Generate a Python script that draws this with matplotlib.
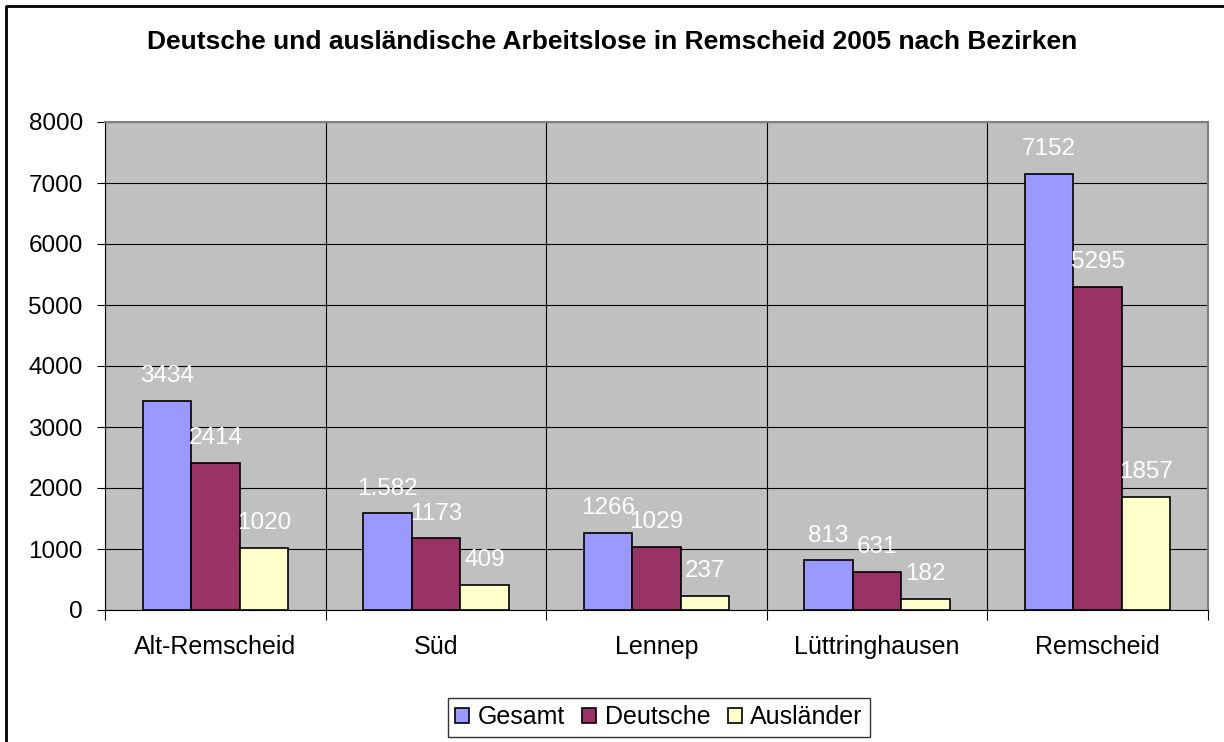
import numpy as np
import matplotlib.pyplot as plt
from matplotlib.lines import Line2D

# data
bezirke = ["Alt-Remscheid", "Süd", "Lennep", "Lüttringhausen", "Remscheid"]
gesamt = [3434, 1582, 1266, 813, 7152]
deutsche = [2414, 1173, 1029, 631, 5295]
auslaender = [1020, 409, 237, 182, 1857]
gesamt_labels = ["3434", "1.582", "1266", "813", "7152"]

series = [
    ("Gesamt", gesamt, "#9999FF", gesamt_labels),
    ("Deutsche", deutsche, "#993366", None),
    ("Ausländer", auslaender, "#FFFFCC", None),
]

plt.rcParams['font.family'] = ['Liberation Sans', 'DejaVu Sans']

fig = plt.figure(figsize=(12.24, 7.42), dpi=100)
ax = fig.add_axes([105 / 1224, 132 / 742, 1103 / 1224, 488 / 742])
ax.set_facecolor("#C0C0C0")

x = np.arange(len(bezirke))
width = 0.22
for i, (name, vals, color, labels) in enumerate(series):
    pos = x + (i - 1) * width
    bars = ax.bar(pos, vals, width, color=color, edgecolor="black",
                  linewidth=1.2, label=name, zorder=3)
    if labels is None:
        labels = [str(v) for v in vals]
    for b, lab in zip(bars, labels):
        ax.annotate(lab, (b.get_x() + b.get_width() / 2, b.get_height()),
                    xytext=(0, 10), textcoords="offset points",
                    ha="center", va="bottom", color="white", fontsize=17.5,
                    zorder=4)

ax.set_xlim(-0.5, len(bezirke) - 0.5)
ax.set_ylim(0, 8000)
ax.set_yticks(np.arange(0, 8001, 1000))
ax.tick_params(axis="y", labelsize=17.5, length=6, pad=10, direction="out")

# vertical lines between categories
ax.set_xticks(np.arange(-0.5, len(bezirke), 1.0))
ax.set_xticklabels([])
ax.set_xticks(x, minor=True)
ax.set_xticklabels(bezirke, minor=True, fontsize=18)
ax.tick_params(axis="x", which="major", length=7, direction="out")
ax.tick_params(axis="x", which="minor", length=0, pad=18)

ax.grid(True, axis="both", which="major", color="black", linewidth=0.8, zorder=0)
for s in ["top", "right"]:
    ax.spines[s].set_color("#808080")
    ax.spines[s].set_linewidth(1.5)
for s in ["left", "bottom"]:
    ax.spines[s].set_color("black")

fig.text(0.5, 1 - 42 / 742, "Deutsche und ausländische Arbeitslose in Remscheid 2005 nach Bezirken",
         ha="center", va="center", fontsize=19, fontweight="bold")

leg = fig.legend(loc="center", bbox_to_anchor=(659 / 1224, 1 - 717 / 742), ncol=3,
                 fontsize=18, frameon=True, fancybox=False, handlelength=0.55,
                 handleheight=0.55, handletextpad=0.35, columnspacing=0.7,
                 borderpad=0.3)
leg.get_frame().set_edgecolor("black")
leg.get_frame().set_linewidth(1.0)

# outer chart border (top and left visible)
fig.lines.append(Line2D([6 / 1224, 6 / 1224, 1.0], [0.0, 1 - 6 / 742, 1 - 6 / 742],
                        transform=fig.transFigure, color="black", linewidth=2))

fig.savefig("out.png", dpi=100)
